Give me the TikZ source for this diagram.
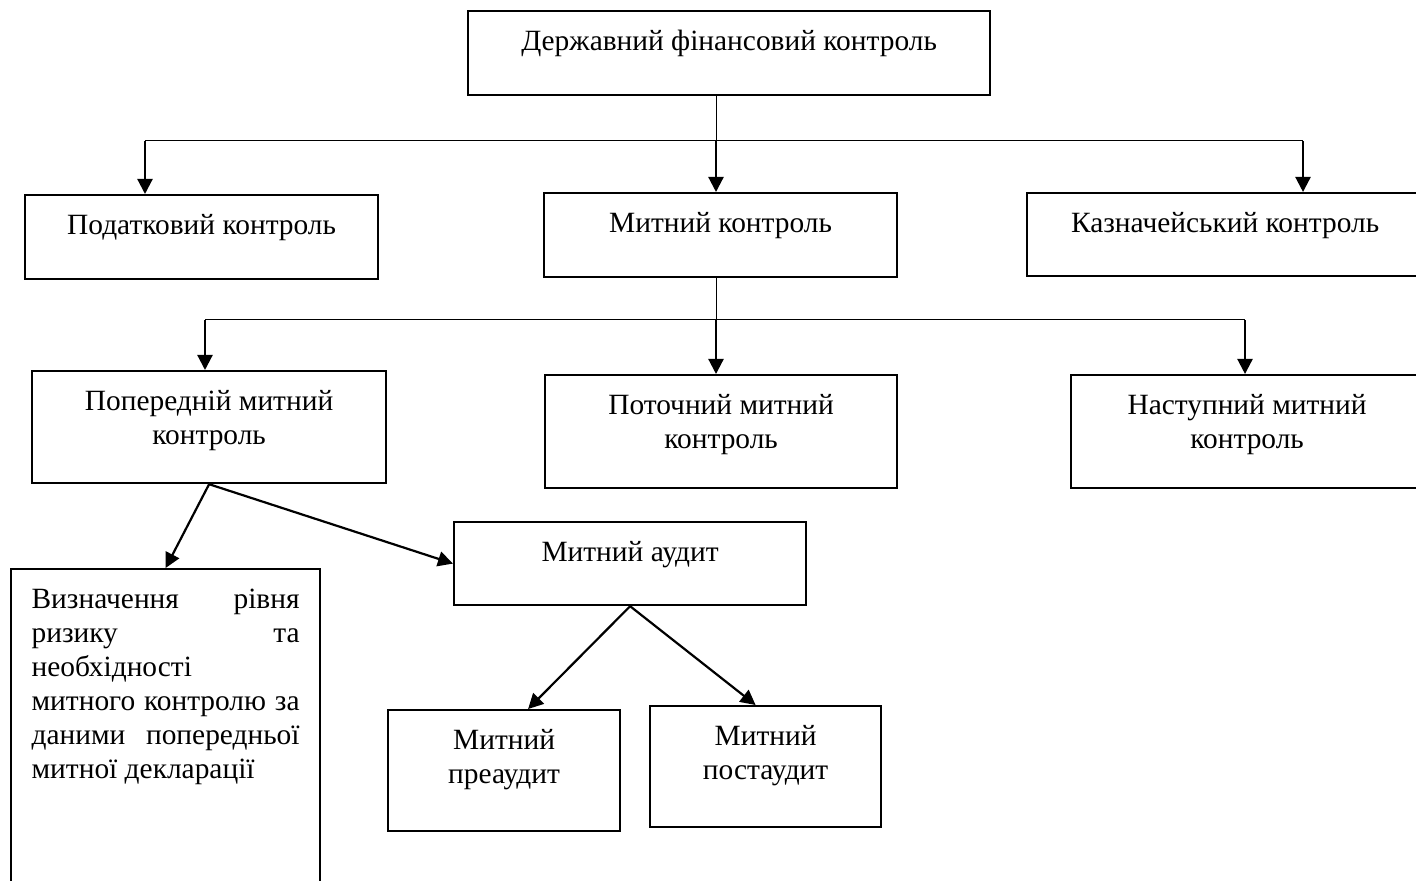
\documentclass[tikz,border=0pt]{standalone}
\usepackage{fontspec}
\setmainfont{Liberation Serif}
\usetikzlibrary{arrows.meta}
\newcommand{\cell}[3]{\parbox[c][#2][t]{#1}{\centering\vspace*{7.6pt}\strut#3}}
\begin{document}
\begin{tikzpicture}[x=0.5pt,y=-0.5pt,font=\fontsize{14.7}{17}\selectfont,
  box/.style={draw,line width=1.1pt,inner sep=0pt,anchor=north west},
  link/.style={line width=0.5pt},
  arr/.style={line width=1.1pt,-{Triangle[length=7.5pt,width=7.5pt]}}]

\useasboundingbox (0,0) rectangle (1416,881);
\clip (0,0) rectangle (1416,881);

\node[box] (gov) at (467,10) {\cell{261pt}{42pt}{Державний фінансовий контроль}};
\node[box] (tax) at (24,194) {\cell{176.5pt}{42pt}{Податковий контроль}};
\node[box] (cus) at (543,192) {\cell{176.5pt}{42pt}{Митний контроль}};
\node[box] (tre) at (1026,192) {\cell{198pt}{41.5pt}{Казначейський контроль}};

\node[box] (prior) at (31,370) {\cell{177pt}{56pt}{Попередній митний\\ контроль}};
\node[box] (cur) at (544,374) {\cell{176pt}{56.5pt}{Поточний митний\\ контроль}};
\node[box] (nxt) at (1070,374) {\cell{176pt}{56.5pt}{Наступний митний\\ контроль}};

\node[box] (aud) at (453,521) {\cell{176pt}{41.5pt}{Митний аудит}};
\node[box] (preaud) at (387,709) {\cell{116pt}{60.5pt}{Митний\\ преаудит}};
\node[box] (postaud) at (649,705) {\cell{115.5pt}{60.5pt}{Митний\\ постаудит}};

\node[box,inner xsep=10.25pt] (risk) at (10,568) {\parbox[c][170pt][t]{134pt}{\vspace*{7.6pt}\strut
\makebox[\linewidth][s]{Визначення рівня}\\
\makebox[\linewidth][s]{ризику та}\\
необхідності\\
\makebox[\linewidth][s]{митного контролю за}\\
\makebox[\linewidth][s]{даними попередньої}\\
митної декларації}};

\coordinate (a1) at (145,141);
\coordinate (a2) at (716,141);
\coordinate (a3) at (1303,141);
\coordinate (b1) at (205,320);
\coordinate (b2) at (716,320);
\coordinate (b3) at (1245,320);

\draw[link] (a2 |- gov.south) -- (a2);
\draw[link] (a1) -- (a3);
\draw[arr] (a1) -- (a1 |- tax.north);
\draw[arr] (a2) -- (a2 |- cus.north);
\draw[arr] (a3) -- (a3 |- tre.north);

\draw[link] (b2 |- cus.south) -- (b2);
\draw[link] (b1) -- (b3);
\draw[arr] (b1) -- (b1 |- prior.north);
\draw[arr] (b2) -- (b2 |- cur.north);
\draw[arr] (b3) -- (b3 |- nxt.north);

\draw[arr] (prior.south) -- (risk.north);
\draw[arr] (prior.south) -- (aud.west);
\draw[arr] (aud.south) -- ([xshift=12pt]preaud.north);
\draw[arr] (aud.south) -- ([xshift=-5pt]postaud.north);

\end{tikzpicture}
\end{document}
